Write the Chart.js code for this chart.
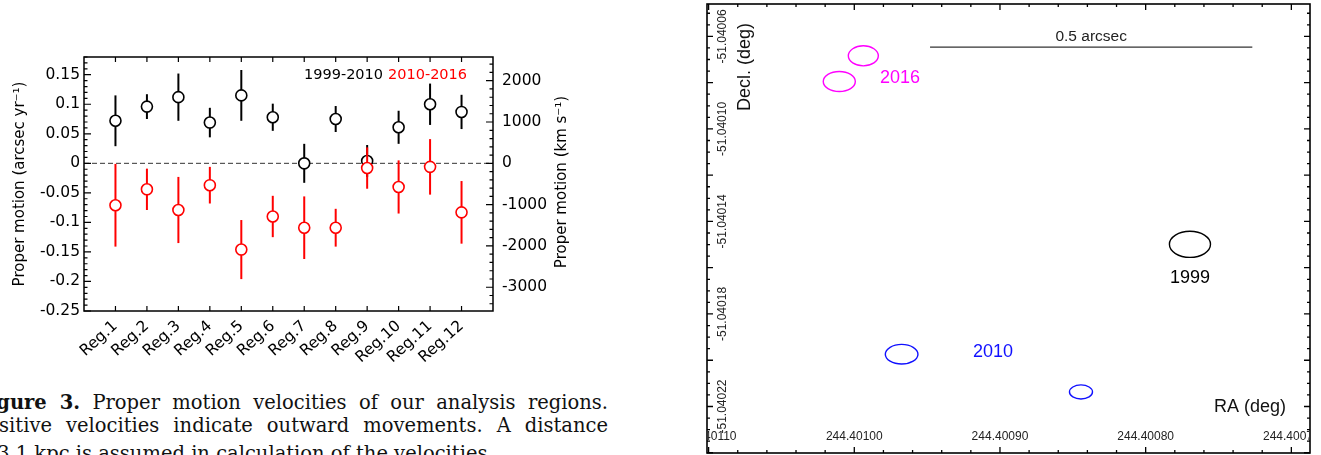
<!DOCTYPE html>
<html lang="en">
<head>
  <meta charset="UTF-8" />
  <title>Proper motion of analysis regions</title>
  <script src="https://cdn.jsdelivr.net/npm/chart.js"></script>
  <style>
    html, body { margin: 0; padding: 0; background: #fff; }
    body { width: 1321px; height: 455px; overflow: hidden; position: relative; }
    #pmChart { position: absolute; left: 0; top: 0; }
    #posChart { position: absolute; left: 700px; top: 0; }
    .cap {
      position: absolute; left: -25px; width: 633px;
      font-family: 'DejaVu Serif', serif; font-size: 19.5px; line-height: 23px; color: #111;
      text-align: justify; text-align-last: justify;
    }
    .cap.last { text-align-last: left; left: -28px; }
  </style>
</head>
<body>
  <canvas id="pmChart" width="600" height="380"></canvas>
  <canvas id="posChart" width="621" height="455"></canvas>

  <div class="cap" style="top:391px"><b>Figure 3.</b> Proper motion velocities of our analysis regions.</div>
  <div class="cap" style="top:414px">Positive velocities indicate outward movements. A distance</div>
  <div class="cap last" style="top:442px">of 3.1 kpc is assumed in calculation of the velocities.</div>

  <script>
    // --- left panel: proper motions per region (arcsec / yr) ---
    const regions = ['Reg.1', 'Reg.2', 'Reg.3', 'Reg.4', 'Reg.5', 'Reg.6',
                     'Reg.7', 'Reg.8', 'Reg.9', 'Reg.10', 'Reg.11', 'Reg.12'];
    const pm9910  = [0.072, 0.096, 0.112, 0.069, 0.115, 0.078, 0.000, 0.075, 0.004, 0.061, 0.100, 0.087];
    const err9910 = [0.043, 0.021, 0.040, 0.025, 0.043, 0.023, 0.033, 0.022, 0.027, 0.028, 0.035, 0.029];
    const pm1016  = [-0.071, -0.044, -0.079, -0.037, -0.146, -0.090, -0.109, -0.109, -0.008, -0.040, -0.006, -0.083];
    const err1016 = [0.070, 0.035, 0.056, 0.031, 0.050, 0.035, 0.053, 0.032, 0.035, 0.045, 0.047, 0.053];
    const pmTicks  = [-0.25, -0.2, -0.15, -0.1, -0.05, 0, 0.05, 0.1, 0.15];
    const kmsTicks = [-3000, -2000, -1000, 0, 1000, 2000];
    const kmsPerArcsecYr = 14300;   // conversion used for the right axis
    const pmMin = -0.25, pmMax = 0.18;

    // --- right panel: positions of the knot (deg) ---
    const epochs = ['2016', '2010', '1999'];
    const ellipseRA      = [[244.4009938, 244.4010103], [244.4009675, 244.4008444], [244.4007696]];
    const ellipseDec     = [[-51.0400684, -51.0400795], [-51.0401974, -51.0402137], [-51.0401499]];
    const ellipseSemiRA  = [[1.03e-5, 1.10e-5], [1.12e-5, 0.79e-5], [1.41e-5]];
    const ellipseSemiDec = [[4.33e-6, 4.33e-6], [4.24e-6, 3.03e-6], [5.63e-6]];
    const epochLabelRA   = [244.4009686, 244.4009048, 244.4007696];
    const epochLabelDec  = [-51.0400779, -51.0401964, -51.0401644];
    const scaleBarRA  = [244.4009480, 244.4007268];
    const scaleBarDec = -51.0400646;
    const raTickLabels  = ['244.40110', '244.40100', '244.40090', '244.40080', '244.40070'];
    const decTickLabels = ['-51.04006', '-51.04010', '-51.04014', '-51.04018', '-51.04022'];
    const raMin = 244.4006872, raMax = 244.4011011;
    const decMin = -51.0402401, decMax = -51.0400460;

    const epochColors = ['#ff00ff', '#1010ff', '#000000'];

    Chart.defaults.font.family = "'DejaVu Sans', sans-serif";
    Chart.defaults.color = '#000';

    // error bars, zero line, frame with inward ticks, legend text
    const pmDecor = {
      id: 'pmDecor',
      beforeDatasetsDraw(chart) {
        const { ctx, chartArea: a, scales } = chart;
        const y0 = scales.y.getPixelForValue(0);
        ctx.save();
        ctx.strokeStyle = '#333';
        ctx.lineWidth = 1;
        ctx.setLineDash([5, 3]);
        ctx.beginPath();
        ctx.moveTo(a.left, y0);
        ctx.lineTo(a.right, y0);
        ctx.stroke();
        ctx.restore();
      },
      beforeDatasetDraw(chart, args) {
        const ds = chart.data.datasets[args.index];
        if (!ds.errors) return;
        const { ctx, scales } = chart;
        ctx.save();
        ctx.strokeStyle = ds.borderColor;
        ctx.lineWidth = 2;
        ds.data.forEach((p, i) => {
          const x = scales.x.getPixelForValue(p.x);
          ctx.beginPath();
          ctx.moveTo(x, scales.y.getPixelForValue(p.y - ds.errors[i]));
          ctx.lineTo(x, scales.y.getPixelForValue(p.y + ds.errors[i]));
          ctx.stroke();
        });
        ctx.restore();
      },
      afterDraw(chart) {
        const { ctx, chartArea: a, scales } = chart;
        ctx.save();
        ctx.strokeStyle = '#000';
        ctx.lineWidth = 1.5;
        ctx.strokeRect(a.left, a.top, a.right - a.left, a.bottom - a.top);
        ctx.lineWidth = 1.2;
        ctx.beginPath();
        // left axis: arcsec/yr, minor every 0.01
        for (let k = -25; k <= 18; k++) {
          const y = scales.y.getPixelForValue(k / 100);
          const len = k % 5 === 0 ? 7 : 3.5;
          ctx.moveTo(a.left, y); ctx.lineTo(a.left + len, y);
        }
        // right axis: km/s, minor every 200
        const y2 = scales.y2;
        for (let k = Math.ceil(y2.min / 200); k <= Math.floor(y2.max / 200); k++) {
          const y = y2.getPixelForValue(k * 200);
          const len = k % 5 === 0 ? 7 : 3.5;
          ctx.moveTo(a.right, y); ctx.lineTo(a.right - len, y);
        }
        // top and bottom: one tick per region
        regions.forEach((r, i) => {
          const x = scales.x.getPixelForValue(i + 1);
          ctx.moveTo(x, a.bottom); ctx.lineTo(x, a.bottom - 5);
          ctx.moveTo(x, a.top); ctx.lineTo(x, a.top + 5);
        });
        ctx.stroke();

        ctx.font = "14.5px 'DejaVu Sans'";
        ctx.textBaseline = 'middle';
        ctx.fillStyle = '#000';
        ctx.fillText(chart.data.datasets[0].label, a.right - 189, a.top + 18);
        ctx.fillStyle = '#ff0000';
        ctx.fillText(chart.data.datasets[1].label, a.right - 105, a.top + 18);

        // right axis title, reading upwards like the left one
        ctx.fillStyle = '#000';
        ctx.font = "15px 'DejaVu Sans'";
        ctx.textAlign = 'center';
        ctx.translate(a.right + 69, (a.top + a.bottom) / 2 - 2);
        ctx.rotate(-Math.PI / 2);
        ctx.fillText('Proper motion (km s\u207B\u00B9)', 0, 0);
        ctx.restore();
      }
    };

    new Chart(document.getElementById('pmChart'), {
      type: 'scatter',
      data: {
        datasets: [
          {
            label: '1999-2010',
            data: pm9910.map((v, i) => ({ x: i + 1, y: v })),
            errors: err9910,
            borderColor: '#000000',
            backgroundColor: '#ffffff',
            pointRadius: 5.5,
            pointBorderWidth: 1.6,
            order: 2
          },
          {
            label: '2010-2016',
            data: pm1016.map((v, i) => ({ x: i + 1, y: v })),
            errors: err1016,
            borderColor: '#ff0000',
            backgroundColor: '#ffffff',
            pointRadius: 5.5,
            pointBorderWidth: 1.6,
            order: 1
          }
        ]
      },
      options: {
        responsive: false,
        animation: false,
        events: [],
        layout: { padding: { top: 57, left: 0, right: 0, bottom: 0 } },
        plugins: { legend: { display: false }, tooltip: { enabled: false } },
        scales: {
          x: {
            type: 'linear', min: 0, max: 13,
            grid: { display: false, drawTicks: false },
            border: { display: false },
            afterBuildTicks: s => { s.ticks = regions.map((r, i) => ({ value: i + 1 })); },
            afterFit: s => { s.height = 69; },
            ticks: {
              font: { size: 15.5 }, color: '#000', minRotation: 42, maxRotation: 42,
              padding: 6, autoSkip: false,
              callback: v => regions[v - 1] || ''
            }
          },
          y: {
            position: 'left', min: pmMin, max: pmMax,
            grid: { display: false, drawTicks: false },
            border: { display: false },
            afterBuildTicks: s => { s.ticks = pmTicks.map(v => ({ value: v })); },
            afterFit: s => { s.width = 84; },
            ticks: { font: { size: 15.5 }, color: '#000', padding: 4, callback: v => String(v) },
            title: {
              display: true, text: 'Proper motion (arcsec yr\u207B\u00B9)',
              font: { size: 15 }, color: '#000', padding: { top: 11 }
            }
          },
          y2: {
            position: 'right', min: pmMin * kmsPerArcsecYr, max: pmMax * kmsPerArcsecYr,
            grid: { display: false, drawTicks: false },
            border: { display: false },
            afterBuildTicks: s => { s.ticks = kmsTicks.map(v => ({ value: v })); },
            afterFit: s => { s.width = 107; },
            ticks: { font: { size: 15.5 }, color: '#000', padding: 9, callback: v => String(v) }
          }
        }
      },
      plugins: [pmDecor]
    });

    // ellipses, epoch labels, frame with inward ticks and labels inside
    const posDecor = {
      id: 'posDecor',
      afterDatasetsDraw(chart) {
        const { ctx, scales: { x, y } } = chart;
        ctx.save();
        chart.data.datasets.forEach(ds => {
          if (ds.epoch === undefined) return;
          ctx.strokeStyle = epochColors[ds.epoch];
          ctx.lineWidth = 1.4;
          ds.data.forEach((p, i) => {
            const cx = x.getPixelForValue(p.x), cy = y.getPixelForValue(p.y);
            const rx = Math.abs(x.getPixelForValue(p.x + ds.semiRA[i]) - cx);
            const ry = Math.abs(y.getPixelForValue(p.y + ds.semiDec[i]) - cy);
            ctx.beginPath();
            ctx.ellipse(cx, cy, rx, ry, 0, 0, Math.PI * 2);
            ctx.stroke();
          });
        });
        ctx.font = "18px 'Liberation Sans'";
        ctx.textAlign = 'center';
        ctx.textBaseline = 'middle';
        epochs.forEach((ep, e) => {
          ctx.fillStyle = epochColors[e];
          ctx.fillText(ep, x.getPixelForValue(epochLabelRA[e]), y.getPixelForValue(epochLabelDec[e]));
        });
        const bx = (x.getPixelForValue(scaleBarRA[0]) + x.getPixelForValue(scaleBarRA[1])) / 2;
        ctx.fillStyle = '#222';
        ctx.font = "15.5px 'Liberation Sans'";
        ctx.fillText('0.5 arcsec', bx, y.getPixelForValue(scaleBarDec) - 10);
        ctx.restore();
      },
      afterDraw(chart) {
        const { ctx, chartArea: a, scales: { x, y } } = chart;
        ctx.save();
        ctx.strokeStyle = '#000';
        ctx.lineWidth = 1.6;
        ctx.strokeRect(a.left, a.top, a.right - a.left, a.bottom - a.top);
        ctx.lineWidth = 1.3;
        ctx.beginPath();
        const raStep = 0.00002;
        for (let k = Math.ceil(raMin / raStep); k <= Math.floor(raMax / raStep); k++) {
          const px = x.getPixelForValue(k * raStep);
          const len = k % 5 === 0 ? 6 : 3;
          ctx.moveTo(px, a.bottom); ctx.lineTo(px, a.bottom - len);
          ctx.moveTo(px, a.top); ctx.lineTo(px, a.top + len);
        }
        const decStep = 0.000005;
        for (let k = Math.ceil(decMin / decStep); k <= Math.floor(decMax / decStep); k++) {
          const py = y.getPixelForValue(k * decStep);
          const len = k % 4 === 0 ? 6 : 3;
          ctx.moveTo(a.left, py); ctx.lineTo(a.left + len, py);
          ctx.moveTo(a.right, py); ctx.lineTo(a.right - len, py);
        }
        ctx.stroke();

        ctx.beginPath();
        ctx.rect(a.left + 1, a.top, a.right - a.left - 2, a.bottom - a.top);
        ctx.clip();
        ctx.fillStyle = '#222';
        ctx.font = "12px 'Liberation Sans'";
        ctx.textAlign = 'center';
        ctx.textBaseline = 'middle';
        raTickLabels.forEach(t => {
          ctx.fillText(t, x.getPixelForValue(Number(t)), a.bottom - 16);
        });
        decTickLabels.forEach(t => {
          ctx.save();
          ctx.translate(a.left + 16, y.getPixelForValue(Number(t)));
          ctx.rotate(-Math.PI / 2);
          ctx.fillText(t, 0, 0);
          ctx.restore();
        });
        ctx.fillStyle = '#111';
        ctx.font = "18px 'Liberation Sans'";
        ctx.fillText('RA (deg)', a.right - 60, a.bottom - 46);
        ctx.translate(a.left + 38, a.top + 63);
        ctx.rotate(-Math.PI / 2);
        ctx.fillText('Decl. (deg)', 0, 0);
        ctx.restore();
      }
    };

    new Chart(document.getElementById('posChart'), {
      type: 'scatter',
      data: {
        datasets: [
          ...epochs.map((ep, e) => ({
            label: ep,
            epoch: e,
            data: ellipseRA[e].map((ra, i) => ({ x: ra, y: ellipseDec[e][i] })),
            semiRA: ellipseSemiRA[e],
            semiDec: ellipseSemiDec[e],
            pointRadius: 0
          })),
          {
            label: '0.5 arcsec',
            data: scaleBarRA.map(ra => ({ x: ra, y: scaleBarDec })),
            showLine: true,
            borderColor: '#333',
            borderWidth: 1.3,
            pointRadius: 0
          }
        ]
      },
      options: {
        responsive: false,
        animation: false,
        events: [],
        layout: { padding: { left: 7, top: 4, right: 11, bottom: 2 } },
        plugins: { legend: { display: false }, tooltip: { enabled: false } },
        scales: {
          x: { type: 'linear', display: false, reverse: true, min: raMin, max: raMax },
          y: { type: 'linear', display: false, min: decMin, max: decMax }
        }
      },
      plugins: [posDecor]
    });
  </script>
</body>
</html>
